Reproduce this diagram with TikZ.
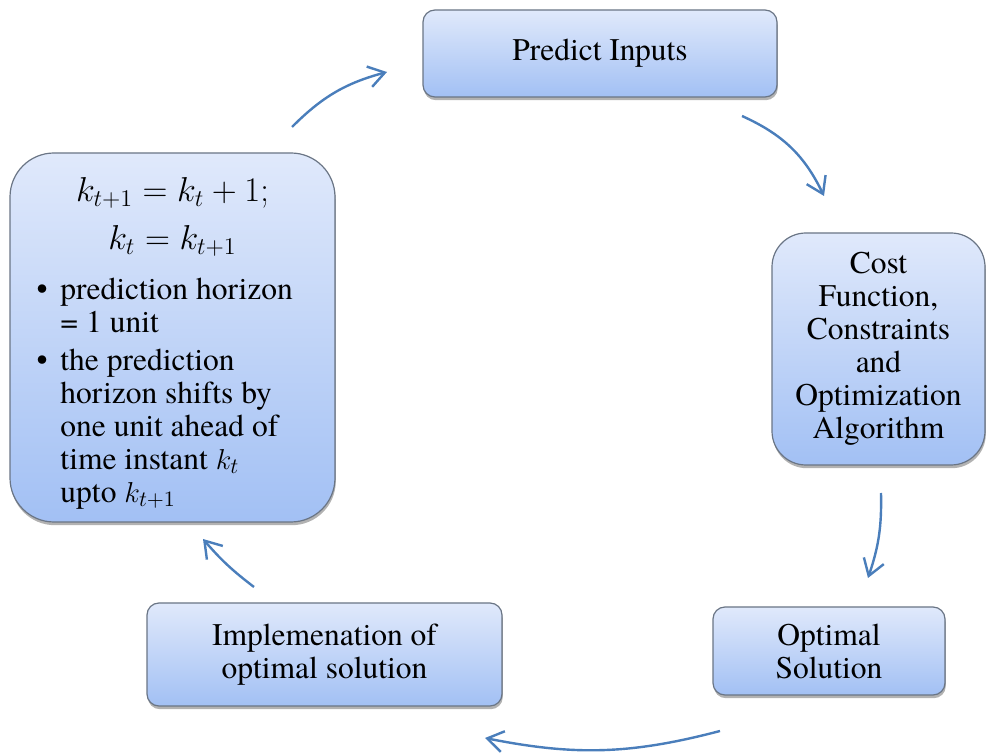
\documentclass[tikz,border=0pt]{standalone}
\usepackage{fontspec}
\IfFontExistsTF{texgyretermes-regular.otf}
  {\setmainfont{texgyretermes}[Extension=.otf,UprightFont=*-regular,BoldFont=*-bold,ItalicFont=*-italic,BoldItalicFont=*-bolditalic]}
  {}
\usetikzlibrary{arrows.meta,shadows}
\definecolor{boxtop}{HTML}{E0E9FB}
\definecolor{boxbot}{HTML}{A2C0F4}
\definecolor{boxline}{HTML}{6A7585}
\definecolor{arrowblue}{HTML}{4A7EBB}
\newcommand\mybullet[1]{\noindent\makebox[12pt][l]{\textbullet}\parbox[t]{124pt}{\raggedright #1}\par}
\tikzset{
  stepbox/.style={draw=boxline, line width=0.6pt, top color=boxtop, bottom color=boxbot,
    rounded corners=6pt, align=center, inner sep=2pt,
    font=\fontsize{15.75pt}{16.5pt}\selectfont,
    drop shadow={shadow xshift=0.4pt, shadow yshift=-1.6pt, fill=black, opacity=0.3}},
  flow/.style={draw=arrowblue, line width=1.2pt,
    -{Straight Barb[length=8pt,width=10.5pt,line width=1.2pt]}}
}
\begin{document}
\begin{tikzpicture}[x=0.5pt,y=0.5pt]
\useasboundingbox (0,0) rectangle (987,756);
\node[stepbox, minimum width=177pt, minimum height=43.5pt] (predict) at (600,702.5) {Predict Inputs};
\node[stepbox, minimum width=106.5pt, minimum height=116pt, rounded corners=17pt] (cost) at (878.5,407)
  {Cost\\Function,\\Constraints\\and\\Optimization\\Algorithm};
\node[stepbox, minimum width=116pt, minimum height=44pt] (optimal) at (829,105) {Optimal\\Solution};
\node[stepbox, minimum width=177.5pt, minimum height=51.5pt] (impl) at (324.5,101.5) {Implemenation of\\optimal solution};
\node[stepbox, minimum width=162.5pt, minimum height=184.5pt, rounded corners=22pt] (shift) at (172.5,418.5)
  {\begin{minipage}[c][170pt][t]{136pt}
   \vspace*{5pt}
   \centering\fontsize{17pt}{24pt}\selectfont
   $k_{t+1} = k_t + 1;$\\
   $k_t = k_{t+1}$\par
   \vspace{8.5pt}
   \fontsize{15.75pt}{16.5pt}\selectfont
   \mybullet{prediction horizon\\= 1 unit}
   \vspace{7pt}
   \mybullet{the prediction\\horizon shifts by\\one unit ahead of\\time instant $k_t$\\upto $k_{t+1}$}
   \end{minipage}};
\coordinate (a1s) at (292,629);
\coordinate (a1e) at (387,684);
\coordinate (a2s) at (742,640);
\coordinate (a2e) at (824,560);
\coordinate (a3s) at (881,263);
\coordinate (a3e) at (868,178);
\coordinate (a4s) at (720,25);
\coordinate (a4e) at (485,18);
\coordinate (a5s) at (254,169);
\coordinate (a5e) at (203,217);
\draw[flow] (a1s) to[bend left=15] (a1e);
\draw[flow] (a2s) to[bend left=20] (a2e);
\draw[flow] (a3s) to[bend left=10] (a3e);
\draw[flow] (a4s) to[bend left=13] (a4e);
\draw[flow] (a5s) to[bend left=6] (a5e);
\end{tikzpicture}
\end{document}
